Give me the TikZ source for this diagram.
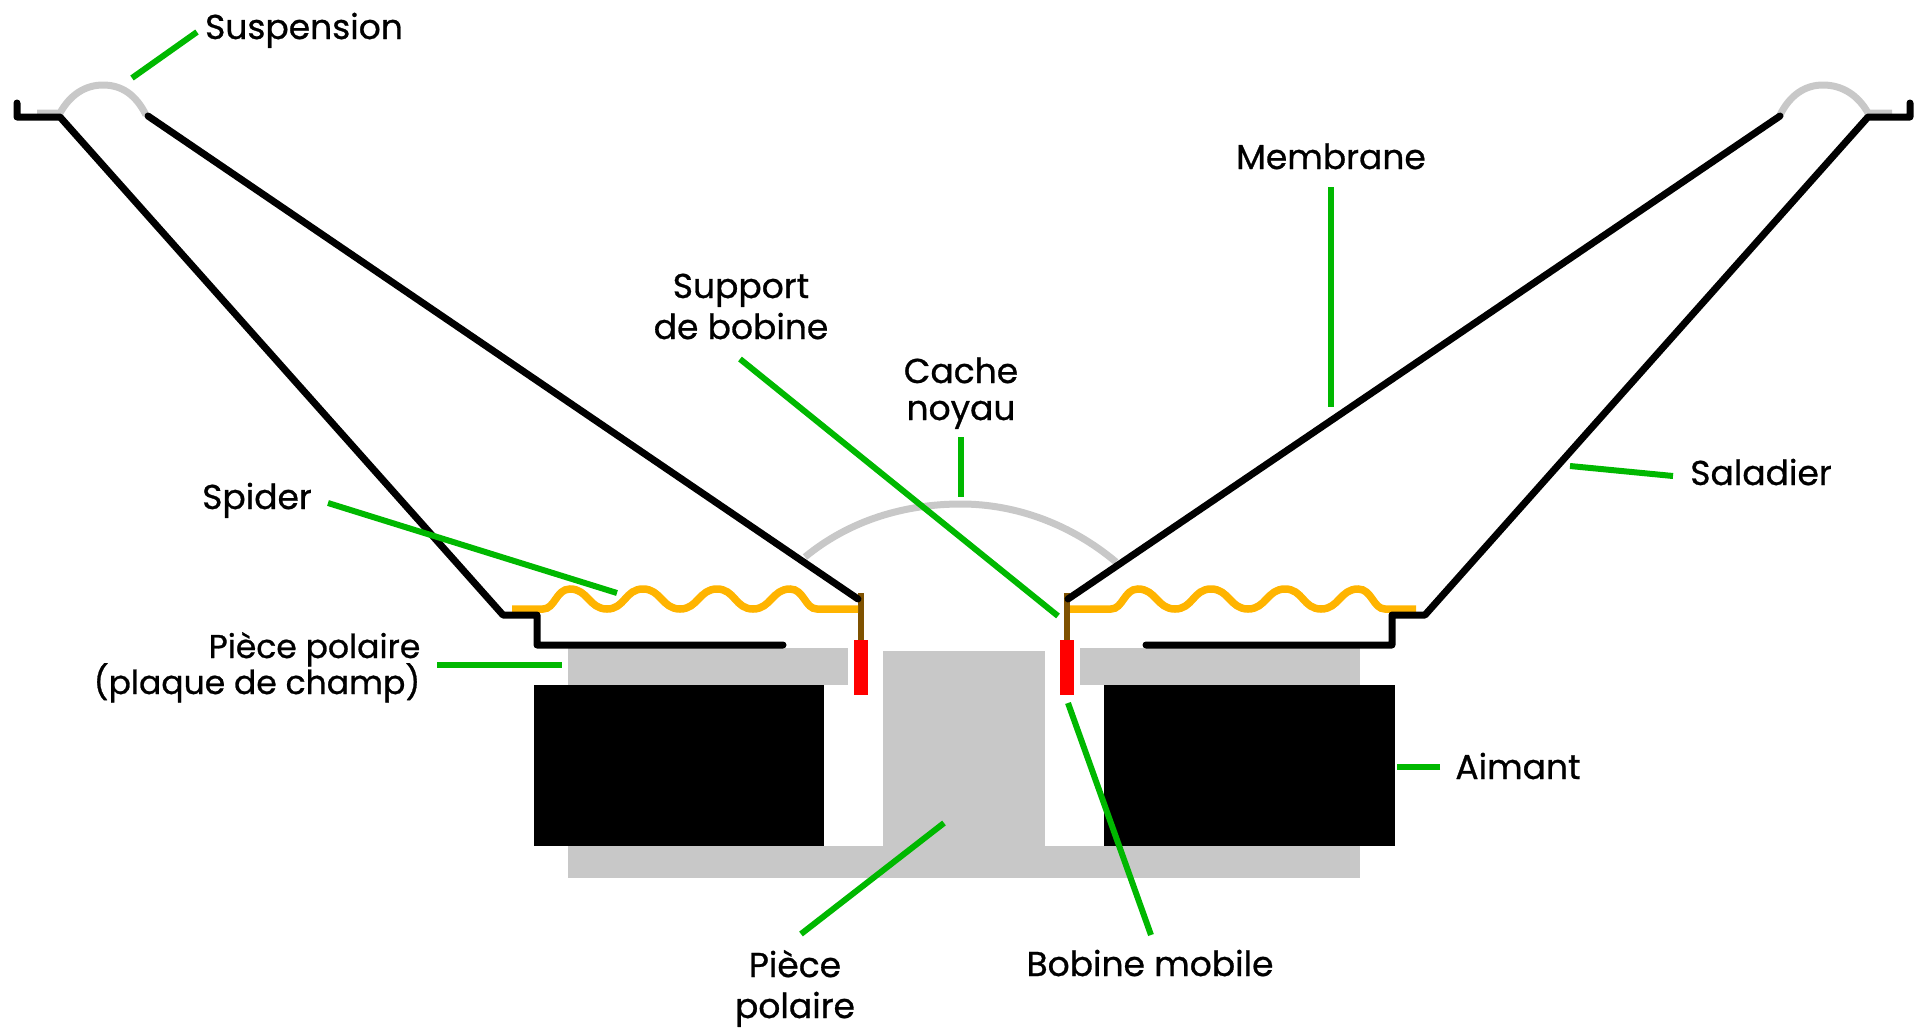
\documentclass[tikz,border=0pt]{standalone}
\usepackage{fontspec}
\setmainfont[FakeBold=0.8]{Poppins}
\usepackage{xcolor}
\usepackage{tikz}
\definecolor{Leader}{HTML}{00B800}
\definecolor{Plate}{HTML}{C8C8C8}
\definecolor{Spring}{HTML}{FFB400}
\definecolor{Former}{HTML}{7F5200}
\definecolor{Coil}{HTML}{FF0000}
\begin{document}
\begin{tikzpicture}[
  x=1pt,y=-1pt,
  frame/.style={line width=7pt,black,line cap=round,line join=round},
  soft/.style={line width=7pt,Plate},
  wave/.style={line width=7.5pt,Spring},
  leader/.style={line width=6pt,Leader},
  part/.style={draw=none,fill=Plate},
  magnet/.style={draw=none,fill=black},
  coil/.style={draw=none,fill=Coil},
  tag/.style={font=\fontsize{34.5}{41}\selectfont,align=center,inner sep=0pt,anchor=base}
]
  \useasboundingbox (0,0) rectangle (1920,1034);

  % pole piece and plates
  \fill[part] (568,846) rectangle (1360,878);
  \fill[part] (883,651) rectangle (1045,878);
  \fill[part] (568,648) rectangle (848,685);
  \fill[part] (1080,648) rectangle (1360,685);
  \fill[magnet] (534,685) rectangle (824,846);
  \fill[magnet] (1104,685) rectangle (1395,846);

  % dust cap and surrounds
  \draw[soft] (805,557) .. controls (850,520) and (905,504) .. (961,504) .. controls (1017,504) and (1072,525) .. (1116,562);
  \draw[soft] (37,113) -- (60,113) .. controls (70,95) and (85,85) .. (103,85) .. controls (122,85) and (136,95) .. (146,115);
  \draw[soft] (1892,113) -- (1868,113) .. controls (1858,95) and (1842,85) .. (1823,85) .. controls (1805,85) and (1790,95) .. (1780,115);

  % voice coil former and coil
  \draw[line width=6.5pt,Former] (861,593) -- (861,640);
  \draw[line width=6.5pt,Former] (1067,593) -- (1067,640);
  \fill[coil] (854,640) rectangle (868,695);
  \fill[coil] (1060,640) rectangle (1074,695);

  % spiders
  \foreach \a/\b/\dx in {512/858/0,1070/1416/568} {
    \draw[wave] (\a,609) -- ({543+\dx},609)
      .. controls +(12,0) and +(-14,0) .. ({570+\dx},589)
      .. controls +(18,0) and +(-18,0) .. ({607+\dx},609)
      .. controls +(18,0) and +(-18,0) .. ({643+\dx},589)
      .. controls +(18,0) and +(-18,0) .. ({680+\dx},609)
      .. controls +(18,0) and +(-18,0) .. ({717+\dx},589)
      .. controls +(18,0) and +(-18,0) .. ({753+\dx},609)
      .. controls +(18,0) and +(-18,0) .. ({790+\dx},589)
      .. controls +(14,0) and +(-12,0) .. ({817+\dx},609) -- (\b,609);
  }

  % basket and cone
  \draw[frame] (17,103) -- (17,117) -- (60,117) -- (503,615) -- (537,615) -- (537,645) -- (783,645);
  \draw[frame] (1910,103) -- (1910,117) -- (1868,117) -- (1425,615) -- (1392,615) -- (1392,645) -- (1146,645);
  \draw[frame] (148,116) -- (858,599);
  \draw[frame] (1780,116) -- (1068,599);

  % labels
  \node[tag] (suspension) at (304,39) {Suspension};
  \node[tag] (membrane) at (1331,169) {Membrane};
  \node[tag] (support) at (741,339) {Support\\de bobine};
  \node[tag] (cache) at (961,420) {Cache\\[-4pt]noyau};
  \node[tag] (spider) at (257,509) {Spider};
  \node[tag,align=right,font=\fontsize{33}{41}\selectfont] (plaque) at (257,694) {Pièce polaire\\[-5pt](plaque de champ)};
  \node[tag] (saladier) at (1761,485) {Saladier};
  \node[tag] (aimant) at (1518,779) {Aimant};
  \node[tag] (bobine) at (1150,976) {Bobine mobile};
  \node[tag] (piece) at (795,1018) {Pièce\\polaire};

  % leaders
  \coordinate (suspensionEnd) at (197,32);
  \coordinate (suspensionTip) at (132,78);
  \coordinate (membraneEnd) at (1331,187);
  \coordinate (membraneTip) at (1331,407);
  \coordinate (supportEnd) at (740,359);
  \coordinate (supportTip) at (1058,616);
  \coordinate (cacheEnd) at (961,437);
  \coordinate (cacheTip) at (961,497);
  \coordinate (spiderEnd) at (328,503);
  \coordinate (spiderTip) at (617,593);
  \coordinate (plaqueEnd) at (437,665);
  \coordinate (plaqueTip) at (562,665);
  \coordinate (saladierEnd) at (1673,476);
  \coordinate (saladierTip) at (1570,466);
  \coordinate (aimantEnd) at (1440,767);
  \coordinate (aimantTip) at (1397,767);
  \coordinate (bobineEnd) at (1151,935);
  \coordinate (bobineTip) at (1068,703);
  \coordinate (pieceEnd) at (801,934);
  \coordinate (pieceTip) at (944,823);
  \foreach \n in {suspension,membrane,support,cache,spider,plaque,saladier,aimant,bobine,piece}
    \draw[leader] (\n End) -- (\n Tip);
\end{tikzpicture}
\end{document}
